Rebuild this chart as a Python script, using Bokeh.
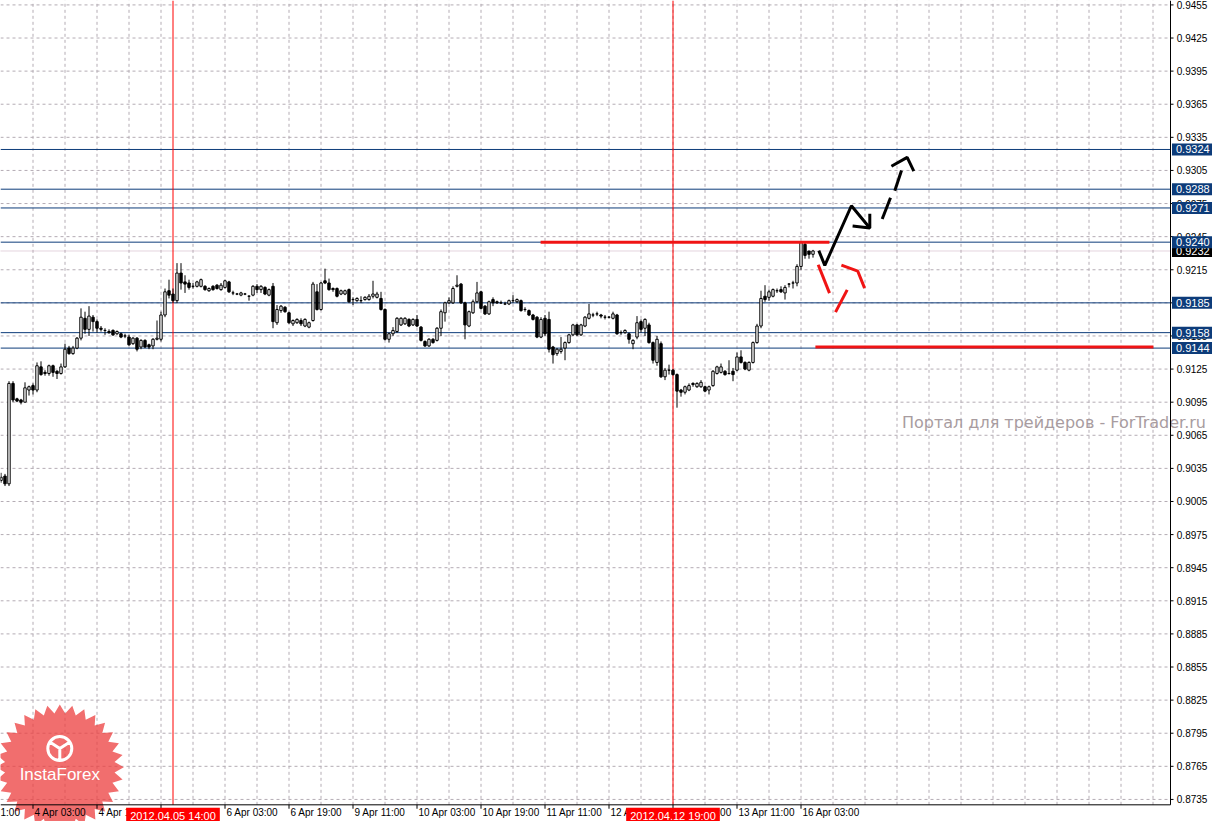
import numpy as np
from bokeh.plotting import figure
from bokeh.models import Label
from bokeh.core.properties import value
from bokeh.embed import file_html
from bokeh.resources import INLINE

# ---------------- data (H1 bars) ----------------
opens = [0.9024, 0.9028, 0.9021, 0.9112, 0.9098, 0.9097, 0.9095, 0.9106, 0.9110, 0.9106,
         0.9127, 0.9122, 0.9121, 0.9128, 0.9123, 0.9121, 0.9127, 0.9144, 0.9139, 0.9144,
         0.9153, 0.9171, 0.9161, 0.9172, 0.9168, 0.9162, 0.9160, 0.9159, 0.9160, 0.9157,
         0.9157, 0.9155, 0.9154, 0.9148, 0.9153, 0.9145, 0.9151, 0.9147, 0.9146, 0.9152,
         0.9152, 0.9174, 0.9196, 0.9193, 0.9187, 0.9212, 0.9204, 0.9203, 0.9200, 0.9200,
         0.9200, 0.9200, 0.9196, 0.9200, 0.9201, 0.9197, 0.9199, 0.9204, 0.9194, 0.9193,
         0.9192, 0.9193, 0.9191, 0.9192, 0.9200, 0.9197, 0.9199, 0.9192, 0.9200, 0.9167,
         0.9178, 0.9181, 0.9176, 0.9166, 0.9167, 0.9169, 0.9164, 0.9163, 0.9169, 0.9195,
         0.9179, 0.9205, 0.9203, 0.9198, 0.9198, 0.9193, 0.9193, 0.9197, 0.9188, 0.9187,
         0.9187, 0.9188, 0.9188, 0.9191, 0.9190, 0.9189, 0.9179, 0.9152, 0.9157, 0.9159,
         0.9165, 0.9166, 0.9170, 0.9165, 0.9170, 0.9163, 0.9150, 0.9146, 0.9152, 0.9151,
         0.9162, 0.9176, 0.9185, 0.9185, 0.9200, 0.9202, 0.9185, 0.9164, 0.9176, 0.9186,
         0.9195, 0.9182, 0.9175, 0.9188, 0.9186, 0.9185, 0.9184, 0.9184, 0.9187, 0.9186,
         0.9187, 0.9179, 0.9178, 0.9174, 0.9172, 0.9154, 0.9171, 0.9170, 0.9145, 0.9139,
         0.9141, 0.9144, 0.9149, 0.9156, 0.9165, 0.9156, 0.9164, 0.9171, 0.9174, 0.9175,
         0.9174, 0.9172, 0.9172, 0.9171, 0.9174, 0.9158, 0.9158, 0.9157, 0.9148, 0.9154,
         0.9168, 0.9162, 0.9165, 0.9149, 0.9131, 0.9148, 0.9118, 0.9124, 0.9124, 0.9120,
         0.9106, 0.9104, 0.9106, 0.9112, 0.9109, 0.9109, 0.9109, 0.9106, 0.9110, 0.9121,
         0.9122, 0.9123, 0.9121, 0.9123, 0.9124, 0.9136, 0.9131, 0.9124, 0.9131, 0.9149,
         0.9164, 0.9191, 0.9190, 0.9191, 0.9196, 0.9197, 0.9194, 0.9202, 0.9203, 0.9203,
         0.9218, 0.9238, 0.9232, 0.9229]
highs = [0.9031, 0.9030, 0.9114, 0.9114, 0.9099, 0.9098, 0.9113, 0.9110, 0.9112, 0.9131,
         0.9132, 0.9124, 0.9129, 0.9129, 0.9124, 0.9130, 0.9148, 0.9146, 0.9146, 0.9154,
         0.9180, 0.9177, 0.9182, 0.9174, 0.9170, 0.9164, 0.9162, 0.9161, 0.9161, 0.9160,
         0.9158, 0.9157, 0.9156, 0.9154, 0.9154, 0.9152, 0.9152, 0.9148, 0.9153, 0.9169,
         0.9177, 0.9198, 0.9206, 0.9198, 0.9221, 0.9221, 0.9210, 0.9206, 0.9203, 0.9205,
         0.9207, 0.9201, 0.9199, 0.9201, 0.9202, 0.9203, 0.9206, 0.9205, 0.9196, 0.9194,
         0.9195, 0.9194, 0.9192, 0.9201, 0.9202, 0.9201, 0.9200, 0.9198, 0.9203, 0.9183,
         0.9183, 0.9182, 0.9177, 0.9170, 0.9171, 0.9171, 0.9171, 0.9168, 0.9204, 0.9202,
         0.9204, 0.9216, 0.9207, 0.9199, 0.9199, 0.9197, 0.9197, 0.9198, 0.9190, 0.9190,
         0.9191, 0.9191, 0.9193, 0.9205, 0.9195, 0.9195, 0.9180, 0.9158, 0.9163, 0.9172,
         0.9172, 0.9172, 0.9171, 0.9171, 0.9174, 0.9164, 0.9151, 0.9153, 0.9153, 0.9163,
         0.9179, 0.9186, 0.9190, 0.9200, 0.9210, 0.9203, 0.9186, 0.9178, 0.9188, 0.9204,
         0.9196, 0.9183, 0.9187, 0.9190, 0.9187, 0.9187, 0.9186, 0.9188, 0.9192, 0.9189,
         0.9188, 0.9181, 0.9179, 0.9175, 0.9173, 0.9172, 0.9174, 0.9177, 0.9146, 0.9144,
         0.9154, 0.9150, 0.9157, 0.9166, 0.9166, 0.9166, 0.9173, 0.9184, 0.9176, 0.9177,
         0.9175, 0.9174, 0.9173, 0.9177, 0.9175, 0.9160, 0.9161, 0.9158, 0.9152, 0.9173,
         0.9170, 0.9171, 0.9167, 0.9150, 0.9155, 0.9150, 0.9126, 0.9129, 0.9125, 0.9121,
         0.9107, 0.9110, 0.9112, 0.9113, 0.9113, 0.9115, 0.9110, 0.9110, 0.9124, 0.9128,
         0.9130, 0.9124, 0.9133, 0.9126, 0.9140, 0.9142, 0.9132, 0.9132, 0.9150, 0.9166,
         0.9196, 0.9201, 0.9197, 0.9198, 0.9198, 0.9200, 0.9201, 0.9203, 0.9205, 0.9220,
         0.9241, 0.9241, 0.9232, 0.9233]
lows = [0.9022, 0.9019, 0.9019, 0.9095, 0.9095, 0.9093, 0.9095, 0.9101, 0.9102, 0.9104,
        0.9119, 0.9119, 0.9119, 0.9118, 0.9116, 0.9120, 0.9126, 0.9138, 0.9138, 0.9143,
        0.9151, 0.9157, 0.9155, 0.9159, 0.9158, 0.9159, 0.9156, 0.9157, 0.9155, 0.9156,
        0.9153, 0.9153, 0.9146, 0.9147, 0.9141, 0.9143, 0.9144, 0.9143, 0.9143, 0.9151,
        0.9150, 0.9172, 0.9189, 0.9185, 0.9185, 0.9197, 0.9194, 0.9197, 0.9198, 0.9199,
        0.9199, 0.9196, 0.9195, 0.9196, 0.9197, 0.9196, 0.9198, 0.9194, 0.9192, 0.9192,
        0.9191, 0.9192, 0.9187, 0.9191, 0.9194, 0.9194, 0.9192, 0.9191, 0.9162, 0.9165,
        0.9176, 0.9176, 0.9166, 0.9164, 0.9166, 0.9164, 0.9163, 0.9162, 0.9168, 0.9178,
        0.9178, 0.9202, 0.9196, 0.9195, 0.9190, 0.9192, 0.9192, 0.9185, 0.9183, 0.9186,
        0.9185, 0.9187, 0.9187, 0.9189, 0.9189, 0.9178, 0.9151, 0.9149, 0.9155, 0.9158,
        0.9164, 0.9165, 0.9163, 0.9164, 0.9163, 0.9150, 0.9145, 0.9145, 0.9148, 0.9150,
        0.9155, 0.9168, 0.9184, 0.9184, 0.9199, 0.9184, 0.9152, 0.9163, 0.9175, 0.9185,
        0.9179, 0.9174, 0.9174, 0.9182, 0.9184, 0.9184, 0.9183, 0.9183, 0.9185, 0.9185,
        0.9177, 0.9177, 0.9173, 0.9169, 0.9153, 0.9153, 0.9155, 0.9140, 0.9130, 0.9137,
        0.9139, 0.9133, 0.9148, 0.9155, 0.9155, 0.9155, 0.9163, 0.9170, 0.9172, 0.9173,
        0.9171, 0.9170, 0.9171, 0.9170, 0.9156, 0.9156, 0.9157, 0.9148, 0.9143, 0.9152,
        0.9158, 0.9155, 0.9148, 0.9130, 0.9128, 0.9117, 0.9115, 0.9120, 0.9119, 0.9090,
        0.9100, 0.9102, 0.9105, 0.9109, 0.9108, 0.9108, 0.9104, 0.9102, 0.9109, 0.9120,
        0.9121, 0.9119, 0.9120, 0.9114, 0.9123, 0.9130, 0.9124, 0.9123, 0.9130, 0.9148,
        0.9162, 0.9186, 0.9187, 0.9190, 0.9194, 0.9194, 0.9188, 0.9199, 0.9198, 0.9200,
        0.9215, 0.9225, 0.9225, 0.9226]
closes = [0.9027, 0.9021, 0.9112, 0.9097, 0.9096, 0.9095, 0.9108, 0.9109, 0.9106, 0.9128,
          0.9120, 0.9121, 0.9128, 0.9122, 0.9121, 0.9127, 0.9143, 0.9139, 0.9144, 0.9153,
          0.9172, 0.9161, 0.9173, 0.9168, 0.9162, 0.9161, 0.9160, 0.9158, 0.9156, 0.9159,
          0.9154, 0.9155, 0.9147, 0.9153, 0.9143, 0.9151, 0.9145, 0.9145, 0.9152, 0.9153,
          0.9174, 0.9195, 0.9192, 0.9187, 0.9212, 0.9203, 0.9202, 0.9199, 0.9200, 0.9204,
          0.9206, 0.9197, 0.9198, 0.9197, 0.9198, 0.9201, 0.9205, 0.9195, 0.9194, 0.9193,
          0.9194, 0.9193, 0.9191, 0.9200, 0.9197, 0.9200, 0.9193, 0.9197, 0.9168, 0.9179,
          0.9182, 0.9177, 0.9167, 0.9169, 0.9170, 0.9166, 0.9170, 0.9167, 0.9202, 0.9179,
          0.9203, 0.9203, 0.9197, 0.9197, 0.9191, 0.9196, 0.9196, 0.9186, 0.9188, 0.9189,
          0.9187, 0.9190, 0.9191, 0.9193, 0.9193, 0.9179, 0.9152, 0.9157, 0.9160, 0.9171,
          0.9171, 0.9171, 0.9164, 0.9170, 0.9164, 0.9151, 0.9146, 0.9152, 0.9149, 0.9162,
          0.9177, 0.9185, 0.9187, 0.9198, 0.9201, 0.9185, 0.9165, 0.9177, 0.9186, 0.9194,
          0.9180, 0.9175, 0.9186, 0.9185, 0.9185, 0.9185, 0.9184, 0.9187, 0.9187, 0.9188,
          0.9178, 0.9179, 0.9174, 0.9170, 0.9154, 0.9170, 0.9157, 0.9143, 0.9138, 0.9143,
          0.9143, 0.9149, 0.9156, 0.9165, 0.9156, 0.9165, 0.9172, 0.9175, 0.9174, 0.9175,
          0.9173, 0.9172, 0.9172, 0.9175, 0.9157, 0.9158, 0.9160, 0.9152, 0.9151, 0.9167,
          0.9161, 0.9170, 0.9149, 0.9133, 0.9152, 0.9118, 0.9124, 0.9124, 0.9120, 0.9105,
          0.9104, 0.9109, 0.9110, 0.9111, 0.9112, 0.9113, 0.9105, 0.9109, 0.9123, 0.9127,
          0.9127, 0.9120, 0.9121, 0.9120, 0.9136, 0.9131, 0.9125, 0.9131, 0.9149, 0.9164,
          0.9189, 0.9188, 0.9195, 0.9197, 0.9196, 0.9195, 0.9199, 0.9202, 0.9203, 0.9218,
          0.9240, 0.9228, 0.9229, 0.9232]

price_ticks = [0.9455, 0.9425, 0.9395, 0.9365, 0.9335, 0.9305, 0.9275, 0.9245, 0.9215,
               0.9185, 0.9155, 0.9125, 0.9095, 0.9065, 0.9035, 0.9005, 0.8975, 0.8945,
               0.8915, 0.8885, 0.8855, 0.8825, 0.8795, 0.8765, 0.8735]
price_tick_labels = ["0.9455", "0.9425", "0.9395", "0.9365", "0.9335", "0.9305", "0.9275",
                     "0.9245", "0.9215", "0.9185", "0.9155", "0.9125", "0.9095", "0.9065",
                     "0.9035", "0.9005", "0.8975", "0.8945", "0.8915", "0.8885", "0.8855",
                     "0.8825", "0.8795", "0.8765", "0.8735"]
time_tick_bars = [8, 24, 40, 56, 72, 88, 104, 120, 136, 152, 168, 184, 200]
time_tick_labels = ["4 Apr 03:00", "4 Apr 19:00", "5 Apr 11:00", "6 Apr 03:00", "6 Apr 19:00",
                    "9 Apr 11:00", "10 Apr 03:00", "10 Apr 19:00", "11 Apr 11:00",
                    "12 Apr 03:00", "12 Apr 19:00", "13 Apr 11:00", "16 Apr 03:00"]
grid_bars = [8, 16, 24, 32, 40, 48, 56, 64, 72, 80, 88, 96, 104, 112, 120, 128, 136, 144,
             152, 160, 168, 176, 184, 192, 200, 208, 216, 224, 232, 240, 248, 256, 264,
             272, 280, 288]
level_prices = [0.9324, 0.9288, 0.9271, 0.9240, 0.9185, 0.9158, 0.9144]
level_labels = ["0.9324", "0.9288", "0.9271", "0.9240", "0.9185", "0.9158", "0.9144"]
bid_price = 0.9232
bid_label = "0.9232"
event_bars = [43, 168]
event_labels = ["2012.04.05 14:00", "2012.04.12 19:00"]
red_level_x0 = [134.9, 203.6]
red_level_x1 = [207.1, 288.1]
red_level_y = [0.9240, 0.9145]

# hand-drawn forecast arrows (bar index, price)
blk_path_x = [204.45, 205.95, 212.6, 217.2]
blk_path_y = [0.92323, 0.92190, 0.92730, 0.92528]
blk_head_x = [212.9, 217.2, 217.2]
blk_head_y = [0.92546, 0.92528, 0.92658]
blk_dash_x0 = [220.3, 223.45]
blk_dash_y0 = [0.92610, 0.92866]
blk_dash_x1 = [222.375, 225.125]
blk_dash_y1 = [0.92803, 0.93050]
blk_dhead_x = [222.6, 226.55, 228.2]
blk_dhead_y = [0.93088, 0.93168, 0.93043]
red_dash_x0 = [204.3, 208.625]
red_dash_y0 = [0.92195, 0.91766]
red_dash_x1 = [207.125, 211.55]
red_dash_y1 = [0.91938, 0.91968]
red_head_x = [210.1, 214.2, 215.9]
red_head_y = [0.92192, 0.92137, 0.91983]

watermark = "Портал для трейдеров - ForTrader.ru"
logo_text = "InstaForex"

# ---------------- geometry of the MT4 window ----------------
PX = 0.25            # bar-index units per screen pixel
PY = 1.0 / 11250.0   # price units per screen pixel (reference scale)
X_LEFT = -0.125
X_AXIS = 292.375     # right price-scale line
X_END = 302.875
Y_TOP = 0.9459
Y_AXIS = 0.873011    # time-scale line
Y_END = 0.8715

BLUE = "#0D3C7A"
RED = "#FF0000"
FONT = "Liberation Sans"

p = figure(width=1212, height=821, x_range=(X_LEFT, X_END), y_range=(Y_END, Y_TOP),
           x_axis_location=None, y_axis_location=None,
           toolbar_location=None, output_backend="svg",
           min_border=0, background_fill_color="white", border_fill_color="white")
p.outline_line_color = None
p.xgrid.visible = False
p.ygrid.visible = False

n_t = len(price_ticks)
n_g = len(grid_bars)

# grid
GRID = "#B4ACB4"
p.segment(x0=[X_LEFT] * n_t, y0=price_ticks, x1=[X_AXIS] * n_t, y1=price_ticks,
          line_color=GRID, line_width=1, line_dash="3 3")
p.segment(x0=grid_bars, y0=[Y_AXIS] * n_g, x1=grid_bars, y1=[Y_TOP] * n_g,
          line_color=GRID, line_width=1, line_dash="3 3")

# logo star burst (decoration)
lc_x, lc_y = 14.7, 0.87642
n_sp = 32
ang = np.linspace(0, 2 * np.pi, 2 * n_sp, endpoint=False)
rad = np.where(np.arange(2 * n_sp) % 2 == 0, 64.0, 55.0)
p.patch(lc_x + rad * np.cos(ang) * PX, lc_y + rad * np.sin(ang) * PY,
        fill_color="#EC3D3D", fill_alpha=0.75, line_color=None)
p.scatter([lc_x], [lc_y + 19 * PY], marker="circle_y", size=24, fill_alpha=0,
          line_color="white", line_width=3)
p.text(x=[lc_x], y=[lc_y - 7 * PY], text=[logo_text], text_font=value(FONT),
       text_font_size=value("17px"), text_color="white", text_align="center",
       text_baseline="middle")

# levels
n_l = len(level_prices)
p.segment(x0=[X_LEFT] * n_l, y0=level_prices, x1=[X_AXIS] * n_l, y1=level_prices,
          line_color=BLUE, line_width=1)
p.segment(x0=[X_LEFT], y0=[bid_price], x1=[X_AXIS], y1=[bid_price],
          line_color="#C8AABB", line_width=1, line_dash="1 1")
p.segment(x0=event_bars, y0=[Y_AXIS] * 2, x1=event_bars, y1=[Y_TOP] * 2,
          line_color=RED, line_width=1)

# candles
bars = np.arange(len(opens))
o = np.array(opens); h = np.array(highs); l = np.array(lows); c = np.array(closes)
up = c >= o
p.segment(x0=bars, y0=h, x1=bars, y1=l, line_color="black", line_width=1)
p.vbar(x=bars[up], width=0.6, top=c[up], bottom=o[up], fill_color="white",
       line_color="black", line_width=1)
p.vbar(x=bars[~up], width=0.6, top=o[~up], bottom=c[~up], fill_color="black",
       line_color="black", line_width=1)

# red support/resistance segments
p.segment(x0=red_level_x0, y0=red_level_y, x1=red_level_x1, y1=red_level_y,
          line_color="#F01414", line_width=3)

# forecast arrows
p.line(blk_path_x, blk_path_y, line_color="black", line_width=3)
p.line(blk_head_x, blk_head_y, line_color="black", line_width=3)
p.segment(x0=blk_dash_x0, y0=blk_dash_y0, x1=blk_dash_x1, y1=blk_dash_y1,
          line_color="black", line_width=3)
p.line(blk_dhead_x, blk_dhead_y, line_color="black", line_width=3)
p.segment(x0=red_dash_x0, y0=red_dash_y0, x1=red_dash_x1, y1=red_dash_y1,
          line_color="#F01414", line_width=3)
p.line(red_head_x, red_head_y, line_color="#F01414", line_width=3)

# watermark (anchored to the right edge of the window)
p.text(x=[X_END - 6.5 * PX], y=[0.90768], text=[watermark], text_font=value("DejaVu Sans"),
       text_font_size=value("16px"), text_color="#A89CA0", text_align="right",
       text_baseline="middle")

# price scale (right)
p.segment(x0=[X_AXIS], y0=[Y_AXIS], x1=[X_AXIS], y1=[Y_TOP], line_color="black", line_width=1)
p.segment(x0=[X_AXIS] * n_t, y0=price_ticks, x1=[X_AXIS + 3 * PX] * n_t, y1=price_ticks,
          line_color="black", line_width=1)
p.text(x=[X_AXIS + 6.3 * PX] * n_t, y=price_ticks, text=price_tick_labels,
       text_font=value(FONT), text_font_size=value("10px"), text_color="black",
       text_align="left", text_baseline="middle")

# time scale (bottom)
n_tt = len(time_tick_bars)
p.segment(x0=[X_LEFT], y0=[Y_AXIS], x1=[X_AXIS], y1=[Y_AXIS], line_color="black", line_width=1)
p.segment(x0=time_tick_bars, y0=[Y_AXIS] * n_tt, x1=time_tick_bars,
          y1=[Y_AXIS - 4 * PY] * n_tt, line_color="black", line_width=1)
p.text(x=[b + 1.5 * PX for b in time_tick_bars], y=[Y_AXIS - 2.5 * PY] * n_tt,
       text=time_tick_labels, text_font=value(FONT), text_font_size=value("10px"),
       text_color="black", text_align="left", text_baseline="top")
p.text(x=[X_LEFT], y=[Y_AXIS - 2.5 * PY], text=["1:00"], text_font=value(FONT),
       text_font_size=value("10px"), text_color="black", text_align="left",
       text_baseline="top")

# red time boxes
for b, t in zip(event_bars, event_labels):
    p.add_layout(Label(x=b, y=Y_AXIS - 3 * PY, text=t, text_font=FONT,
                       text_font_size="11px", text_color="white", text_baseline="top",
                       text_align="center", background_fill_color=RED,
                       padding=dict(left=4, right=4, top=2, bottom=2)))

# price boxes
p.add_layout(Label(x=X_AXIS + 1.5 * PX, y=bid_price, text=bid_label, text_font=FONT,
                   text_font_size="11px", text_color="white", text_baseline="middle",
                   text_align="left", background_fill_color="black",
                   padding=dict(left=4, right=10, top=2, bottom=2)))
for lv, txt in zip(level_prices, level_labels):
    p.add_layout(Label(x=X_AXIS + 1.5 * PX, y=lv, text=txt, text_font=FONT,
                       text_font_size="11px", text_color="white", text_baseline="middle",
                       text_align="left", background_fill_color=BLUE,
                       padding=dict(left=4, right=10, top=2, bottom=2)))

open("out.html", "w").write(file_html(p, INLINE))
